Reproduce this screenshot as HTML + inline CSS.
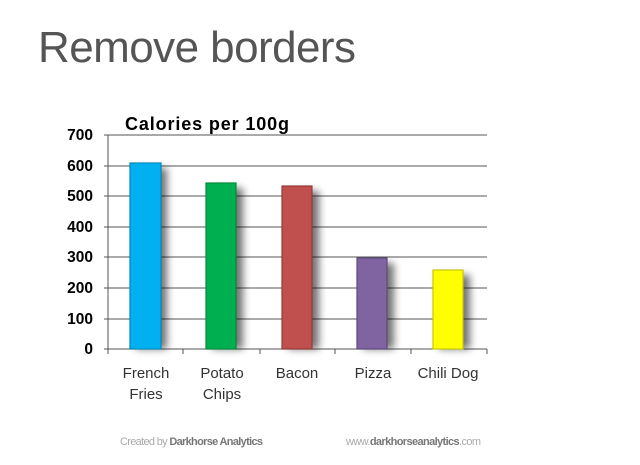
<!DOCTYPE html><html><head><style>body{margin:0;background:#fff;width:640px;height:460px;overflow:hidden}</style></head><body>
<svg width="640" height="460" xmlns="http://www.w3.org/2000/svg" font-family="Liberation Sans, sans-serif">
<defs>
<filter id="sh" x="-50%" y="-20%" width="200%" height="150%"><feGaussianBlur stdDeviation="4"/></filter>
</defs>
<text x="38" y="62" font-size="44" fill="#555" textLength="318">Remove borders</text>
<text x="125" y="130" font-size="18" font-weight="bold" fill="#000" textLength="164">Calories per 100g</text>
<g stroke="#555" stroke-width="1">
<line x1="108" y1="135" x2="487" y2="135"/><line x1="108" y1="166" x2="487" y2="166"/>
<line x1="108" y1="196" x2="487" y2="196"/><line x1="108" y1="227" x2="487" y2="227"/>
<line x1="108" y1="257" x2="487" y2="257"/><line x1="108" y1="288" x2="487" y2="288"/>
<line x1="108" y1="319" x2="487" y2="319"/><line x1="104" y1="349" x2="487" y2="349"/>
<line x1="108" y1="135" x2="108" y2="349"/>
<line x1="104" y1="135" x2="108" y2="135"/><line x1="104" y1="166" x2="108" y2="166"/><line x1="104" y1="196" x2="108" y2="196"/><line x1="104" y1="227" x2="108" y2="227"/><line x1="104" y1="257" x2="108" y2="257"/><line x1="104" y1="288" x2="108" y2="288"/><line x1="104" y1="319" x2="108" y2="319"/>
<line x1="108" y1="349" x2="108" y2="354"/><line x1="183" y1="349" x2="183" y2="354"/><line x1="260" y1="349" x2="260" y2="354"/><line x1="335" y1="349" x2="335" y2="354"/><line x1="411" y1="349" x2="411" y2="354"/><line x1="487" y1="349" x2="487" y2="354"/>
</g>
<g font-size="15.5" font-weight="bold" text-anchor="end" fill="#000">
<text x="93" y="140">700</text><text x="93" y="171">600</text><text x="93" y="201">500</text><text x="93" y="232">400</text><text x="93" y="262">300</text><text x="93" y="293">200</text><text x="93" y="324">100</text><text x="93" y="354">0</text>
</g>
<g fill="#000" opacity="0.55" filter="url(#sh)">
<rect x="136" y="168" width="31" height="181"/><rect x="212" y="188" width="31" height="161"/><rect x="288" y="191" width="31" height="158"/><rect x="363" y="263" width="31" height="86"/><rect x="439" y="275" width="31" height="74"/>
</g>
<g stroke-width="1.2">
<rect x="130" y="163" width="31" height="186" fill="#00b0f0" stroke="#0088bb"/>
<rect x="206" y="183" width="30" height="166" fill="#00b050" stroke="#008a3c"/>
<rect x="282" y="186" width="30" height="163" fill="#c0504d" stroke="#963b38"/>
<rect x="357" y="258" width="30" height="91" fill="#8064a2" stroke="#5e4a7a"/>
<rect x="433" y="270" width="30" height="79" fill="#ffff00" stroke="#c8c800"/>
</g>
<g font-size="15" fill="#333" text-anchor="middle">
<text x="146" y="378">French</text><text x="146" y="399">Fries</text>
<text x="222" y="378">Potato</text><text x="222" y="399">Chips</text>
<text x="297" y="378">Bacon</text>
<text x="373" y="378">Pizza</text>
<text x="448" y="378">Chili Dog</text>
</g>
<text x="120" y="445" font-size="11" fill="#aaa" textLength="143">Created by <tspan font-weight="bold" fill="#777">Darkhorse Analytics</tspan></text>
<text x="346" y="445" font-size="11" fill="#aaa" textLength="135">www.<tspan font-weight="bold" fill="#777">darkhorseanalytics</tspan>.com</text>
</svg>
</body></html>
